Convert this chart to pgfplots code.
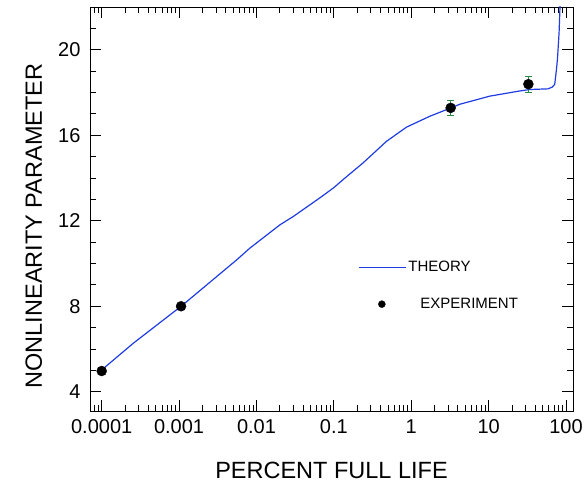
\documentclass[border=0pt]{standalone}
\usepackage{pgfplots}
\pgfplotsset{compat=1.18}
\usepackage{fontspec}
\setmainfont{Liberation Sans}
\definecolor{theory}{RGB}{30,60,225}
\definecolor{errg}{RGB}{40,140,70}
\pgfplotsset{
  theorylegend/.style={legend image code/.code={\draw[##1] (0bp,0bp) -- (47bp,0bp);}},
  explegend/.style={legend image code/.code={\draw[##1] plot coordinates {(23bp,0bp)};}},
}
\begin{document}
\begin{tikzpicture}
\begin{axis}[
  name=ax,
  scale only axis, width=483bp, height=404bp,
  xmode=log, xmin=7.06e-5, xmax=123,
  ymin=3.1, ymax=22,
  xtick={1e-4,1e-3,0.01,0.1,1,10,100},
  xticklabels={0.0001,0.001,0.01,0.1,1,10,100},
  minor xtick={8e-5,9e-5,
    2e-4,3e-4,4e-4,5e-4,6e-4,7e-4,8e-4,9e-4,
    2e-3,3e-3,4e-3,5e-3,6e-3,7e-3,8e-3,9e-3,
    2e-2,3e-2,4e-2,5e-2,6e-2,7e-2,8e-2,9e-2,
    0.2,0.3,0.4,0.5,0.6,0.7,0.8,0.9,
    2,3,4,5,6,7,8,9,
    20,30,40,50,60,70,80,90},
  ytick={4,8,12,16,20},
  minor ytick={3,5,6,7,9,10,11,13,14,15,17,18,19,21,22},
  tick align=inside,
  major tick length=11bp, minor tick length=6bp,
  axis line style={line width=0.8bp},
  every tick/.style={black, line width=0.8bp},
  ticklabel style={font=\fontsize{20bp}{22bp}\selectfont},
  xticklabel style={yshift=-5bp},
  yticklabel style={xshift=-6bp},
  /pgf/number format/assume math mode=true,
  xlabel={PERCENT FULL LIFE},
  ylabel={NONLINEARITY PARAMETER},
  label style={font=\fontsize{23.5bp}{25bp}\selectfont},
  xlabel style={at={(axis description cs:0.5,0)}, anchor=base, yshift=-67bp},
  ylabel style={at={(axis description cs:0,0.5)}, anchor=base, yshift=48bp, xshift=-17bp},
  legend style={draw=none, fill=none, at={(axis description cs:0.555,0.376)},
    anchor=north west, font=\fontsize{15bp}{17bp}\selectfont, row sep=21bp,
    inner sep=0pt},
  legend cell align=left,
]
\addplot[theory, line width=1.2bp, line join=round, theorylegend]
coordinates {
(1e-4,5.02)
(2.56e-4,6.27)
(1.08e-3,8.02)
(5.55e-3,10.17)
(8.22e-3,10.72)
(2.01e-2,11.81)
(2.99e-2,12.2)
(6.59e-2,13.07)
(0.1,13.55)
(0.132,13.93)
(0.239,14.71)
(0.48,15.72)
(0.869,16.38)
(1.74,16.89)
(3.31,17.29)
(4.24,17.45)
(10.35,17.83)
(25.1,18.07)
(33.9,18.14)
(58.2,18.17)
(66.1,18.25)
(71.4,18.38)
(75.2,19.08)
(77.6,19.6)
(81.3,20.8)
(84.1,22.3)
};
\addlegendentry{THEORY}
\addplot[only marks, mark=*, mark size=5bp, black, forget plot,
  error bars/.cd, y dir=both, y explicit,
  error bar style={errg, line width=1bp},
  error mark options={errg, mark size=3.5bp, line width=1bp, rotate=90}]
coordinates {
(1e-4,4.97) +- (0,0)
(1.06e-3,8.0) +- (0,0)
(3.23,17.28) +- (0,0.36)
(32.6,18.39) +- (0,0.37)
};
\addplot[only marks, mark=*, mark size=3.5bp, black, explegend]
coordinates {
(1e-4,4.97)
(1.06e-3,8.0)
(3.23,17.28)
(32.6,18.39)
};
\addlegendentry{\hspace{12bp}EXPERIMENT}
\end{axis}
\pgfresetboundingbox
\path ([shift={(-90bp,-74bp)}]ax.south west) rectangle ([shift={(11bp,7bp)}]ax.north east);
\end{tikzpicture}
\end{document}
